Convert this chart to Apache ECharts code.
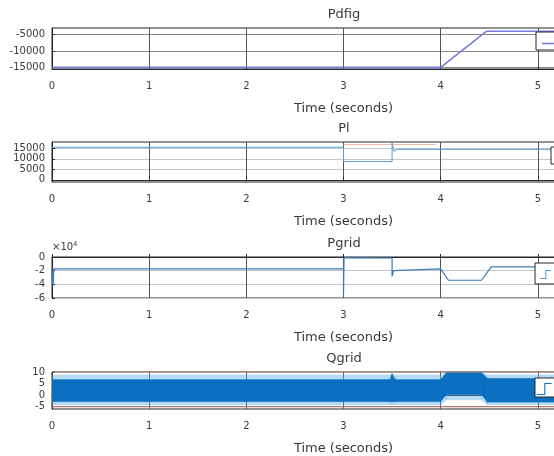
<!DOCTYPE html>
<html><head><meta charset="utf-8">
<script src="https://cdn.jsdelivr.net/npm/echarts@6/dist/echarts.min.js"></script>
<style>html,body{margin:0;padding:0;overflow:hidden;background:#fff;width:554px;height:456px}#c{width:680px;height:456px}</style>
</head><body><div id="c"></div><script>
// ---------------- data ----------------
const titles = ['Pdfig', 'Pl', 'Pgrid', 'Qgrid'];
const xLabel = 'Time (seconds)';
const xTicks = [0, 1, 2, 3, 4, 5, 6];

const pdfigT = [0, 4.0, 4.47, 6];
const pdfigV = [-15000, -15000, -4000, -4000];
const pdfigTicks = [-15000, -10000, -5000];

const plT = [0, 3.0, 3.0, 3.5, 3.5, 3.52, 3.55, 6];
const plV = [15500, 15500, 8700, 8700, 17500, 13500, 14500, 14500];
const plRefT = [3.0, 3.95];
const plRefV = [16800, 16800];
const plTicks = [0, 5000, 10000, 15000];

const pgridT = [0, 0.004, 0.008, 0.012, 0.018, 3.0, 3.0, 3.006, 3.015, 3.5, 3.5, 3.515, 3.53, 4.0, 4.08, 4.42, 4.52, 6];
const pgridV = [-17500, -40000, -24000, -42000, -17500, -17500, -55000, -1000, -1500, -1500, -28500, -20000, -17500, -17500, -34000, -34000, -14500, -14500];
const pgridTicks = [-60000, -40000, -20000, 0];

const qgridT       = [0,    3.48, 3.5,  3.53, 4.0,  4.06, 4.42, 4.48, 6];
const qgridOuterLo = [-4.2, -4.2, -4.2, -4.2, -4.2, -2.0, -2.0, -4.2, -4.2];
const qgridOuterHi = [8.6,  8.6,  9.5,  8.6,  8.6,  10,   10,   8.6,  8.6];
const qgridInnerLo = [-2.8, -2.8, -2.8, -2.8, -2.8, 0.3,  0.3,  -3.0, -3.0];
const qgridInnerHi = [6.7,  6.7,  9.0,  6.7,  6.7,  9.7,  9.7,  7.2,  7.2];
const qgridLimT = [0, 6];
const qgridLimHi = [10, 10];
const qgridLimLo = [-5, -5];
const qgridTicks = [-5, 0, 5, 10];

// ---------------- layout / style ----------------
const FONT = 'DejaVu Sans';
const TXT = '#3a3a3a';
const gridTops = [28, 142, 257, 372];
const gridHeights = [41, 40, 41, 39];
const yRanges = [[-15500, -3000], [-1000, 18000], [-60000, 0], [-6, 10]];
const yTickSets = [pdfigTicks, plTicks, pgridTicks, qgridTicks];
const yFormat = [v => v, v => v, v => v / 10000, v => v];

const zip = (a, b) => a.map((v, i) => [v, b[i]]);

const grid = gridTops.map((t, i) => ({
  left: 52, width: 583, top: t, height: gridHeights[i],
  show: true, borderColor: '#262626', borderWidth: 1, backgroundColor: 'transparent'
}));

const xAxis = gridTops.map((t, i) => ({
  type: 'value', gridIndex: i, min: xTicks[0], max: xTicks[xTicks.length - 1], interval: 1,
  name: xLabel, nameLocation: 'middle', nameGap: 33,
  nameTextStyle: { fontFamily: FONT, fontSize: 13, color: TXT },
  axisLine: { lineStyle: { color: '#262626' } },
  axisTick: { inside: true, length: 3, lineStyle: { color: '#262626' } },
  axisLabel: { fontFamily: FONT, fontSize: 10, color: TXT, margin: 12 },
  splitLine: { show: true, lineStyle: { color: '#555', width: 1 } }
}));

const yAxis = gridTops.map((t, i) => ({
  type: 'value', gridIndex: i, min: yRanges[i][0], max: yRanges[i][1],
  name: i === 2 ? '×10{s|4}' : '',
  nameLocation: 'end', nameGap: 3,
  nameTextStyle: { fontFamily: FONT, fontSize: 10, color: TXT, align: 'left',
    rich: { s: { fontFamily: FONT, fontSize: 7, color: TXT, verticalAlign: 'top', padding: [0, 0, 6, 0] } } },
  axisLine: { show: true, lineStyle: { color: '#262626' } },
  axisTick: { show: true, inside: true, length: 3, customValues: yTickSets[i], lineStyle: { color: '#262626' } },
  axisLabel: { fontFamily: FONT, fontSize: 10, color: TXT, margin: 7, customValues: yTickSets[i], formatter: yFormat[i] },
  splitLine: { show: true, lineStyle: { color: i === 0 ? '#888' : '#c4c8cc', width: 1 } }
}));

const title = titles.map((s, i) => ({
  text: s, left: 344, textAlign: 'center', top: gridTops[i] - 20, padding: 0,
  textStyle: { fontFamily: FONT, fontSize: 13, fontWeight: 'normal', color: TXT, lineHeight: 14 }
}));

// envelope band drawn as polygons between consecutive samples, placed via the axes
function band(name, T, lo, hi, color) {
  const data = T.slice(0, -1).map((t, i) => [t, lo[i], hi[i], T[i + 1], lo[i + 1], hi[i + 1]]);
  return {
    type: 'custom', name, xAxisIndex: 3, yAxisIndex: 3, data, clip: true,
    encode: { x: [0, 3], y: [1, 2, 4, 5] }, itemStyle: { color },
    renderItem: (params, api) => {
      const a = api.coord([api.value(0), api.value(1)]);
      const b = api.coord([api.value(0), api.value(2)]);
      const c = api.coord([api.value(3), api.value(5)]);
      const d = api.coord([api.value(3), api.value(4)]);
      return { type: 'polygon', shape: { points: [a, b, c, d] },
        style: { fill: color, stroke: color, lineWidth: 0.6 } };
    }
  };
}

const lineBase = { type: 'line', symbol: 'none', animation: false };
const series = [
  Object.assign({}, lineBase, { name: 'Pdfig', xAxisIndex: 0, yAxisIndex: 0, data: zip(pdfigT, pdfigV),
    lineStyle: { color: '#7a7ade', width: 1.6 }, itemStyle: { color: '#7a7ade' } }),
  Object.assign({}, lineBase, { name: 'Pl ref', xAxisIndex: 1, yAxisIndex: 1, data: zip(plRefT, plRefV),
    lineStyle: { color: '#eab9a6', width: 1 }, itemStyle: { color: '#eab9a6' } }),
  Object.assign({}, lineBase, { name: 'Pl', xAxisIndex: 1, yAxisIndex: 1, data: zip(plT, plV),
    lineStyle: { color: '#5a9fd8', width: 1 }, itemStyle: { color: '#5a9fd8' } }),
  Object.assign({}, lineBase, { name: 'Pgrid', xAxisIndex: 2, yAxisIndex: 2, data: zip(pgridT, pgridV),
    lineStyle: { color: '#3a7ab8', width: 1.2 }, itemStyle: { color: '#3a7ab8' } }),
  band('Qgrid env', qgridT, qgridOuterLo, qgridOuterHi, 'rgba(90,175,235,0.45)'),
  band('Qgrid', qgridT, qgridInnerLo, qgridInnerHi, '#0b6fc0'),
  Object.assign({}, lineBase, { name: 'Qmax', xAxisIndex: 3, yAxisIndex: 3, data: zip(qgridLimT, qgridLimHi),
    lineStyle: { color: '#b07a6a', width: 1.2 } }),
  Object.assign({}, lineBase, { name: 'Qmin', xAxisIndex: 3, yAxisIndex: 3, data: zip(qgridLimT, qgridLimLo),
    lineStyle: { color: '#b07a6a', width: 1.2 } })
];

const stepIcon = 'path://M0,12L8,12L8,0L16,0L16,1.2L9.2,1.2L9.2,13.2L0,13.2Z';
const legBase = { orient: 'horizontal', selectedMode: false, backgroundColor: '#fff', borderColor: '#262626',
  borderWidth: 1, itemGap: 4, textStyle: { fontFamily: FONT, fontSize: 9, color: TXT, lineHeight: 9 } };
const legend = [
  Object.assign({}, legBase, { data: ['Pdfig'], left: 536, top: 32, padding: [7, 4, 2, 6], icon: 'rect', itemWidth: 16, itemHeight: 1.5 }),
  Object.assign({}, legBase, { data: ['Pl'], left: 551, top: 147, padding: [6, 4, 2, 6], icon: 'rect', itemWidth: 16, itemHeight: 1.5 }),
  Object.assign({}, legBase, { data: ['Pgrid'], left: 535, top: 263, padding: [7, 4, 5, 5], icon: stepIcon, itemWidth: 16, itemHeight: 9 }),
  Object.assign({}, legBase, { data: ['Qgrid'], left: 535, top: 378, padding: [5, 4, 2, 2], icon: stepIcon, itemWidth: 16, itemHeight: 12 })
];

const chart = echarts.init(document.getElementById('c'), null, { renderer: 'canvas' });
chart.setOption({ animation: false, backgroundColor: '#fff', title, grid, xAxis, yAxis, legend, series });
</script></body></html>
